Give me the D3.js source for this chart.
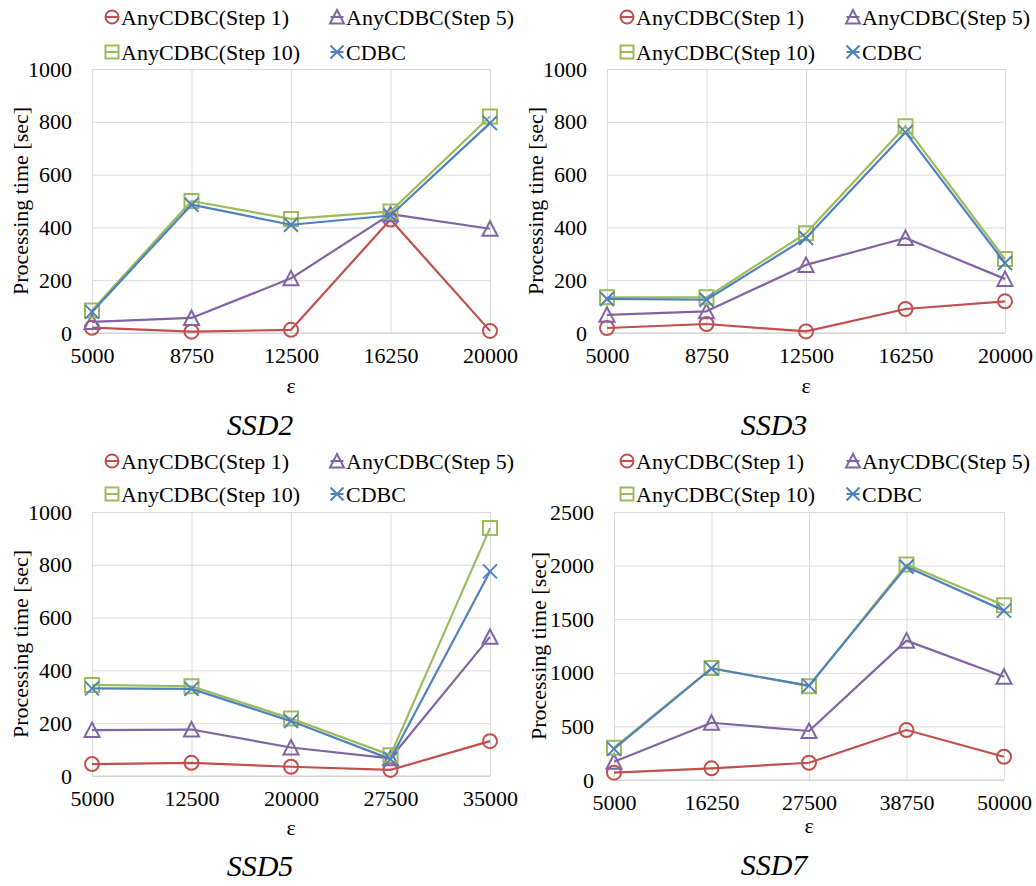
<!DOCTYPE html>
<html>
<head>
<meta charset="utf-8">
<script src="https://cdn.jsdelivr.net/npm/d3@7"></script>
<style>
  html, body { margin: 0; padding: 0; background: #fff; }
</style>
</head>
<body>
<svg id="chart" width="1036" height="886"></svg>
<script>
// ---------- data ----------
const seriesNames = ["AnyCDBC(Step 1)", "AnyCDBC(Step 5)", "AnyCDBC(Step 10)", "CDBC"];

const ssd2Categories = ["5000", "8750", "12500", "16250", "20000"];
const ssd2Step1  = [20, 5, 12, 430, 8];
const ssd2Step5  = [42, 57, 207, 450, 395];
const ssd2Step10 = [85, 500, 432, 460, 820];
const ssd2CDBC   = [80, 486, 410, 445, 795];

const ssd3Categories = ["5000", "8750", "12500", "16250", "20000"];
const ssd3Step1  = [19, 34, 6, 91, 120];
const ssd3Step5  = [69, 82, 258, 360, 205];
const ssd3Step10 = [135, 135, 378, 783, 280];
const ssd3CDBC   = [129, 126, 360, 760, 265];

const ssd5Categories = ["5000", "12500", "20000", "27500", "35000"];
const ssd5Step1  = [45, 50, 35, 23, 132];
const ssd5Step5  = [174, 176, 108, 67, 527];
const ssd5Step10 = [345, 340, 218, 79, 939];
const ssd5CDBC   = [332, 330, 208, 64, 775];

const ssd7Categories = ["5000", "16250", "27500", "38750", "50000"];
const ssd7Step1  = [68, 109, 161, 466, 217];
const ssd7Step5  = [171, 534, 457, 1300, 963];
const ssd7Step10 = [300, 1045, 875, 2010, 1630];
const ssd7CDBC   = [290, 1040, 880, 1990, 1580];

const ticks1000 = [0, 200, 400, 600, 800, 1000];
const ticks2500 = [0, 500, 1000, 1500, 2000, 2500];

const yTitle = "Processing time [sec]";
const xTitle = "ε";

// ---------- layout / style ----------
const colors = ["#C0504D", "#8064A2", "#9BBB59", "#4F81BD"];
const shapes = ["circle", "triangle", "square", "x"];
const gridColor = "#D9D9D9";
const FONT = "Times New Roman, Times, Liberation Serif, Tinos, Noto Serif, DejaVu Serif, serif";

const panels = [
  { title: "SSD2", cats: ssd2Categories, series: [ssd2Step1, ssd2Step5, ssd2Step10, ssd2CDBC], ticks: ticks1000,
    x0: 92, x1: 490, y0: 69, y1: 333, legX: [112, 337], legY: [17, 52], titleX: 260, titleY: 435, eY: 393, yTx: 20 },
  { title: "SSD3", cats: ssd3Categories, series: [ssd3Step1, ssd3Step5, ssd3Step10, ssd3CDBC], ticks: ticks1000,
    x0: 607, x1: 1005, y0: 69, y1: 333, legX: [627, 853], legY: [17, 52], titleX: 774, titleY: 435, eY: 393, yTx: 535 },
  { title: "SSD5", cats: ssd5Categories, series: [ssd5Step1, ssd5Step5, ssd5Step10, ssd5CDBC], ticks: ticks1000,
    x0: 92, x1: 490, y0: 512, y1: 776, legX: [112, 337], legY: [461, 494], titleX: 260, titleY: 876, eY: 835, yTx: 20 },
  { title: "SSD7", cats: ssd7Categories, series: [ssd7Step1, ssd7Step5, ssd7Step10, ssd7CDBC], ticks: ticks2500,
    x0: 614, x1: 1004, y0: 512, y1: 780, legX: [627, 853], legY: [461, 494], titleX: 774, titleY: 875, eY: 833, yTx: 538 }
];

const svg = d3.select("#chart").attr("font-family", FONT);

function markerPath(shape, s) {
  const h = s / 2;
  if (shape === "triangle") {
    return `M0,${-h - 0.5}L${h + 0.5},${h}L${-h - 0.5},${h}Z`;
  }
  if (shape === "square") {
    return `M${-h},${-h}H${h}V${h}H${-h}Z`;
  }
  if (shape === "x") {
    return `M${-h},${-h}L${h},${h}M${h},${-h}L${-h},${h}`;
  }
  return null;
}

function drawMarker(g, shape, color, x, y, size) {
  if (shape === "circle") {
    g.append("circle").attr("cx", x).attr("cy", y).attr("r", size / 2)
      .attr("fill", "none").attr("stroke", color).attr("stroke-width", 2);
  } else {
    g.append("path").attr("d", markerPath(shape, size))
      .attr("transform", `translate(${x},${y})`)
      .attr("fill", "none").attr("stroke", color).attr("stroke-width", 2);
  }
}

panels.forEach(p => {
  const g = svg.append("g");
  const x = d3.scalePoint().domain(p.cats).range([p.x0, p.x1]).padding(0);
  const y = d3.scaleLinear().domain([0, p.ticks[p.ticks.length - 1]]).range([p.y1, p.y0]);

  // horizontal gridlines + y tick labels
  const ya = g.append("g").attr("transform", `translate(${p.x0},0)`)
    .call(d3.axisLeft(y).tickValues(p.ticks).tickSize(-(p.x1 - p.x0)).tickPadding(20).tickFormat(d3.format("d")))
    .attr("font-family", FONT);
  ya.select(".domain").remove();
  ya.selectAll("line").attr("stroke", gridColor).attr("stroke-width", 1);
  ya.selectAll("text").attr("font-size", 22).attr("fill", "#000").attr("font-family", FONT);

  // vertical gridlines + x tick labels
  const xa = g.append("g").attr("transform", `translate(0,${p.y1})`)
    .call(d3.axisBottom(x).tickSize(-(p.y1 - p.y0)).tickPadding(14))
    .attr("font-family", FONT);
  xa.select(".domain").remove();
  xa.selectAll("line").attr("stroke", gridColor).attr("stroke-width", 1);
  xa.selectAll("text").attr("font-size", 22).attr("fill", "#000").attr("font-family", FONT);

  // bottom axis line
  g.append("line").attr("x1", p.x0).attr("x2", p.x1).attr("y1", p.y1).attr("y2", p.y1)
    .attr("stroke", "#CFCFCF").attr("stroke-width", 1.2);

  // series
  p.series.forEach((vals, si) => {
    const line = d3.line().x((d, i) => x(p.cats[i])).y(d => y(d));
    g.append("path").datum(vals).attr("d", line)
      .attr("fill", "none").attr("stroke", colors[si]).attr("stroke-width", 2.2)
      .attr("stroke-linejoin", "round");
    vals.forEach((v, i) => drawMarker(g, shapes[si], colors[si], x(p.cats[i]), y(v), 14));
  });

  // axis titles
  g.append("text").attr("x", (p.x0 + p.x1) / 2).attr("y", p.eY)
    .attr("text-anchor", "middle").attr("font-size", 22).text(xTitle);
  g.append("text")
    .attr("transform", `translate(${p.yTx + 8},${(p.y0 + p.y1) / 2}) rotate(-90)`)
    .attr("text-anchor", "middle").attr("font-size", 22).text(yTitle);

  // panel title
  g.append("text").attr("x", p.titleX).attr("y", p.titleY)
    .attr("text-anchor", "middle").attr("font-size", 30).attr("font-style", "italic")
    .text(p.title);

  // legend
  seriesNames.forEach((name, si) => {
    const lx = p.legX[si % 2];
    const ly = p.legY[Math.floor(si / 2)];
    const lg = g.append("g");
    lg.append("line").attr("x1", lx - 6.5).attr("x2", lx + 6.5).attr("y1", ly).attr("y2", ly)
      .attr("stroke", colors[si]).attr("stroke-width", 2);
    drawMarker(lg, shapes[si], colors[si], lx, ly, 13);
    lg.append("text").attr("x", lx + 9).attr("y", ly + 7.5)
      .attr("font-size", 22).attr("fill", "#000").text(name);
  });
});
</script>
</body>
</html>
